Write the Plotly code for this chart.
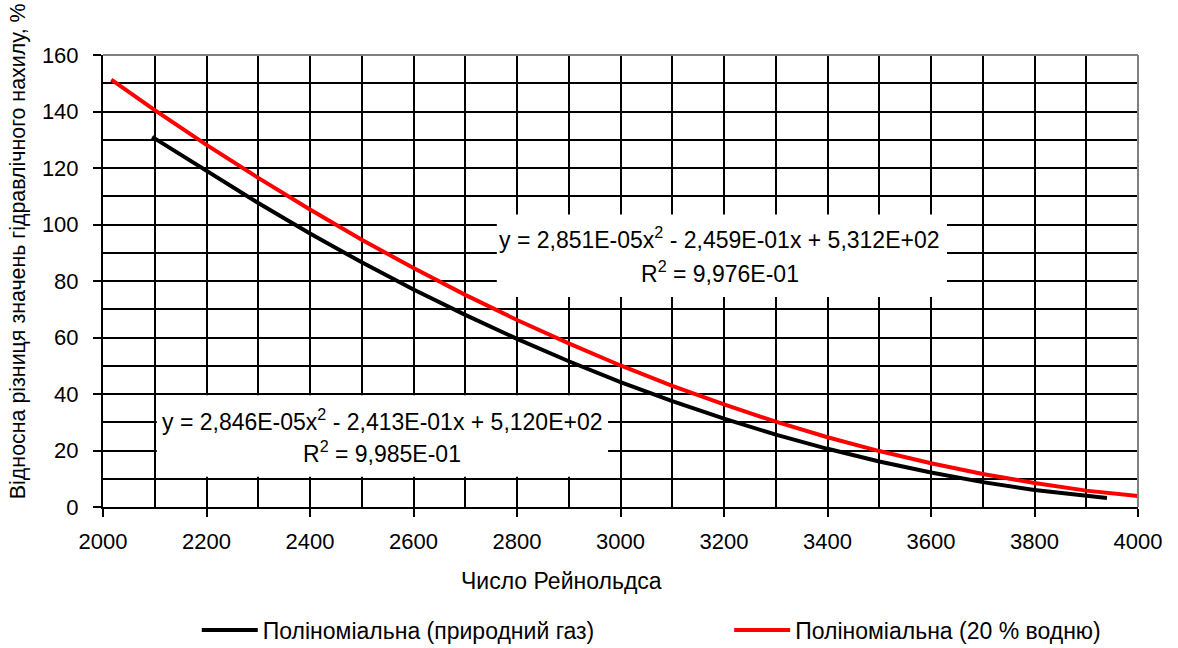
import plotly.graph_objects as go

# Polynomial trend values (Reynolds number vs. relative difference, %)
gas_re = [2095, 2200, 2300, 2400, 2500, 2600, 2700, 2800, 2900, 3000,
          3100, 3200, 3300, 3400, 3500, 3600, 3700, 3800, 3900, 3940]
gas_diff = [131.0, 118.9, 107.6, 96.8, 86.6, 77.0, 68.0, 59.5, 51.6, 44.2,
            37.5, 31.3, 25.6, 20.6, 16.1, 12.2, 8.8, 6.0, 3.8, 3.2]

h2_re = [2016, 2100, 2200, 2300, 2400, 2500, 2600, 2700, 2800, 2900, 3000,
         3100, 3200, 3300, 3400, 3500, 3600, 3700, 3800, 3900, 4000]
h2_diff = [151.3, 140.5, 128.2, 116.5, 105.3, 94.6, 84.6, 75.1, 66.2, 57.9, 50.1,
           42.9, 36.3, 30.2, 24.7, 19.8, 15.5, 11.7, 8.5, 5.8, 3.9]

series_names = ["Поліноміальна (природний газ)", "Поліноміальна (20 % водню)"]

eq_h2 = ["y = 2,851E-05x<sup>2</sup> - 2,459E-01x + 5,312E+02", "R<sup>2</sup> = 9,976E-01"]
eq_gas = ["y = 2,846E-05x<sup>2</sup> - 2,413E-01x + 5,120E+02", "R<sup>2</sup> = 9,985E-01"]

x_title = "Число Рейнольдса"
y_title = "Відносна різниця значень гідравлічного нахилу, %"

FONT = "Liberation Sans, Arial, sans-serif"

fig = go.Figure()
fig.add_trace(go.Scatter(x=gas_re, y=gas_diff, mode="lines", name=series_names[0],
                         line=dict(color="black", width=4), legend="legend"))
fig.add_trace(go.Scatter(x=h2_re, y=h2_diff, mode="lines", name=series_names[1],
                         line=dict(color="#ff0000", width=4), legend="legend2"))

axis_common = dict(
    showline=True, linecolor="black", linewidth=2,
    ticks="outside", ticklen=8, tickwidth=2, tickcolor="black",
    showgrid=True, gridcolor="black", gridwidth=2,
    zeroline=False,
    tickfont=dict(family=FONT, size=22, color="black"),
)

fig.update_xaxes(range=[2000, 4000], dtick=200, tick0=2000, ticklabelstandoff=6,
                 minor=dict(dtick=100, showgrid=True, gridcolor="black", gridwidth=2),
                 **axis_common)
fig.update_yaxes(range=[0, 160], dtick=20, tick0=0, ticklabelstandoff=10,
                 minor=dict(dtick=10, showgrid=True, gridcolor="black", gridwidth=2),
                 **axis_common)

shapes = [
    # grey frame on top and right
    dict(type="line", xref="paper", yref="paper", x0=0, x1=1, y0=1, y1=1,
         line=dict(color="#808080", width=2)),
    dict(type="line", xref="paper", yref="paper", x0=1, x1=1, y0=0, y1=1,
         line=dict(color="#808080", width=2)),
    # white boxes behind the trendline equations
    dict(type="rect", xref="x", yref="y", x0=2761, x1=3631, y0=74.3, y1=103.5,
         fillcolor="white", line=dict(width=0), layer="above"),
    dict(type="rect", xref="x", yref="y", x0=2104, x1=2976, y0=10.7, y1=39.6,
         fillcolor="white", line=dict(width=0), layer="above"),
]

eq_font = dict(family=FONT, size=23, color="black")
annotations = [
    dict(x=3192, y=95.3, xref="x", yref="y", text=eq_h2[0], showarrow=False,
         font=eq_font, xanchor="center", yanchor="middle"),
    dict(x=3192, y=83.2, xref="x", yref="y", text=eq_h2[1], showarrow=False,
         font=eq_font, xanchor="center", yanchor="middle"),
    dict(x=2540, y=30.8, xref="x", yref="y", text=eq_gas[0], showarrow=False,
         font=eq_font, xanchor="center", yanchor="middle"),
    dict(x=2540, y=19.6, xref="x", yref="y", text=eq_gas[1], showarrow=False,
         font=eq_font, xanchor="center", yanchor="middle"),
    dict(x=0.4434, y=-0.1637, xref="paper", yref="paper", text=x_title,
         showarrow=False, font=dict(family=FONT, size=23, color="black"),
         xanchor="center", yanchor="middle"),
    dict(x=0, y=0.566, xref="paper", yref="paper", xshift=-85, text=y_title,
         textangle=-90, showarrow=False, font=dict(family=FONT, size=21.4, color="black"),
         xanchor="center", yanchor="middle"),
]

legend_common = dict(orientation="h", xanchor="left", y=-0.272, yanchor="middle",
                     font=dict(family=FONT, size=23, color="black"),
                     itemwidth=56, bgcolor="rgba(0,0,0,0)")

fig.update_layout(
    width=1178, height=648,
    margin=dict(l=103, r=40, t=55, b=141, autoexpand=False),
    paper_bgcolor="white", plot_bgcolor="white",
    font=dict(family=FONT, size=20, color="black"),
    shapes=shapes, annotations=annotations,
    showlegend=True,
    legend=dict(x=0.0906, **legend_common),
    legend2=dict(x=0.605, **legend_common),
)

fig.write_html("out.html")
